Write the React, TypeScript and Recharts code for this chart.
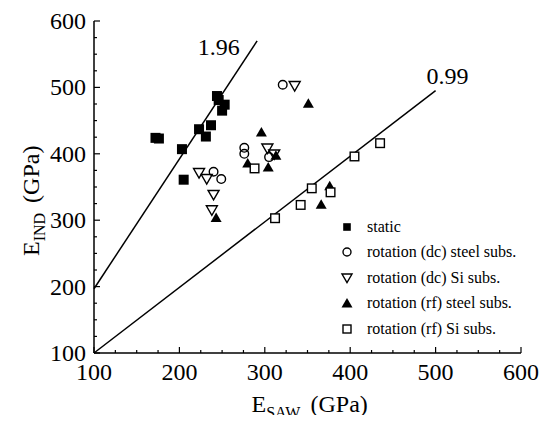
import React from 'react';
import { ScatterChart, Scatter, XAxis, YAxis, ReferenceDot, Legend } from 'recharts';

const FONT = "'Liberation Serif', 'Times New Roman', Times, serif";

// Data (E_SAW, E_IND) in GPa
const staticPts: [number, number][] = [
  [172, 424], [176, 423], [203, 407], [205, 361], [223, 437], [231, 426],
  [237, 443], [244, 487], [246, 481], [253, 474], [250, 465],
];
const dcSteelPts: [number, number][] = [
  [240, 373], [249, 362], [276, 409], [276, 400], [305, 395], [321, 504],
];
const dcSiPts: [number, number][] = [
  [223, 371], [232, 362], [240, 338], [238, 315], [303, 408], [311, 399], [335, 502],
];
const rfSteelPts: [number, number][] = [
  [296, 433], [280, 386], [304, 380], [313, 398], [351, 476], [243, 304], [366, 324], [376, 352],
];
const rfSiPts: [number, number][] = [
  [288, 378], [312, 303], [342, 323], [355, 348], [377, 342], [405, 396], [435, 416],
];

const fitSteep: [number, number][] = [[100, 196], [291, 570]];
const fitShallow: [number, number][] = [[100, 99], [500, 495]];
const fitLabels = [
  { x: 246, y: 561, text: '1.96' },
  { x: 514, y: 518, text: '0.99' },
];

const axisTicks = [
  100, 125, 150, 175, 200, 225, 250, 275, 300, 325, 350, 375, 400,
  425, 450, 475, 500, 525, 550, 575, 600,
];
const DOMAIN: [number, number] = [100, 600];

const legendItems = [
  { key: 'static', label: 'static' },
  { key: 'dcSteel', label: 'rotation (dc) steel subs.' },
  { key: 'dcSi', label: 'rotation (dc) Si subs.' },
  { key: 'rfSteel', label: 'rotation (rf) steel subs.' },
  { key: 'rfSi', label: 'rotation (rf) Si subs.' },
];

const toObj = (arr: [number, number][]) => arr.map(([x, y]) => ({ x, y }));

const isMajor = (v: number) => v % 100 === 0;

const BottomTick = (props: any) => {
  const { x, y, payload } = props;
  const major = isMajor(payload.value);
  return (
    <g>
      <line x1={x} y1={y} x2={x} y2={y - (major ? 6 : 3)} stroke="#000" strokeWidth={1.2} />
      {major && (
        <text x={x} y={y + 27} textAnchor="middle" fontSize={24} fontFamily={FONT} fill="#000">
          {payload.value}
        </text>
      )}
    </g>
  );
};
const TopTick = (props: any) => {
  const { x, y, payload } = props;
  const major = isMajor(payload.value);
  return <line x1={x} y1={y} x2={x} y2={y + (major ? 6 : 3)} stroke="#000" strokeWidth={1.2} />;
};
const LeftTick = (props: any) => {
  const { x, y, payload } = props;
  const major = isMajor(payload.value);
  return (
    <g>
      <line x1={x} y1={y} x2={x + (major ? 6 : 3)} y2={y} stroke="#000" strokeWidth={1.2} />
      {major && (
        <text x={x - 8} y={y + 8} textAnchor="end" fontSize={24} fontFamily={FONT} fill="#000">
          {payload.value}
        </text>
      )}
    </g>
  );
};
const RightTick = (props: any) => {
  const { x, y, payload } = props;
  const major = isMajor(payload.value);
  return <line x1={x} y1={y} x2={x - (major ? 6 : 3)} y2={y} stroke="#000" strokeWidth={1.2} />;
};

const XTitle = (props: any) => {
  const vb = props.viewBox || {};
  const x0 = vb.x + vb.width / 2 - 56;
  const y = vb.y + 59;
  return (
    <text x={x0} y={y} textAnchor="start" fontFamily={FONT} fontSize={24} fill="#000">
      <tspan>E</tspan>
      <tspan fontSize={16} dy={6}>SAW</tspan>
      <tspan dy={-6} dx={10}>(GPa)</tspan>
    </text>
  );
};
const YTitle = (props: any) => {
  const vb = props.viewBox || {};
  const x0 = 31;
  const y0 = vb.y + vb.height / 2 + 69;
  return (
    <text
      x={x0}
      y={y0}
      textAnchor="start"
      fontFamily={FONT}
      fontSize={24}
      fill="#000"
      transform={`rotate(-90, ${x0}, ${y0})`}
    >
      <tspan>E</tspan>
      <tspan fontSize={16} dy={6}>IND</tspan>
      <tspan dy={-6} dx={10}>(GPa)</tspan>
    </text>
  );
};

const FilledSquare = (p: any) => (
  <rect x={p.cx - 5} y={p.cy - 5} width={10} height={10} fill="#000" />
);
const OpenCircle = (p: any) => (
  <circle cx={p.cx} cy={p.cy} r={4.3} fill="none" stroke="#000" strokeWidth={1.4} />
);
const OpenDown = (p: any) => (
  <polygon
    points={`${p.cx - 5.5},${p.cy - 4.5} ${p.cx + 5.5},${p.cy - 4.5} ${p.cx},${p.cy + 5}`}
    fill="none"
    stroke="#000"
    strokeWidth={1.4}
  />
);
const FilledUp = (p: any) => (
  <polygon
    points={`${p.cx - 5.5},${p.cy + 4.5} ${p.cx + 5.5},${p.cy + 4.5} ${p.cx},${p.cy - 5}`}
    fill="#000"
  />
);
const OpenSquare = (p: any) => (
  <rect x={p.cx - 4.3} y={p.cy - 4.3} width={8.6} height={8.6} fill="#fff" stroke="#000" strokeWidth={1.4} />
);
const NoShape = () => <g />;

const LegendMarker = ({ k }: { k: string }) => {
  const c = 10;
  switch (k) {
    case 'static':
      return <rect x={c - 3.8} y={c - 3.8} width={7.6} height={7.6} fill="#000" />;
    case 'dcSteel':
      return <circle cx={c} cy={c} r={4} fill="none" stroke="#000" strokeWidth={1.4} />;
    case 'dcSi':
      return (
        <polygon
          points={`${c - 5},${c - 4} ${c + 5},${c - 4} ${c},${c + 4.5}`}
          fill="none"
          stroke="#000"
          strokeWidth={1.4}
        />
      );
    case 'rfSteel':
      return <polygon points={`${c - 5.5},${c + 4.5} ${c + 5.5},${c + 4.5} ${c},${c - 5}`} fill="#000" />;
    default:
      return <rect x={c - 4} y={c - 4} width={8} height={8} fill="none" stroke="#000" strokeWidth={1.4} />;
  }
};

const LegendContent = () => (
  <div style={{ fontFamily: FONT, fontSize: 16, color: '#000' }}>
    {legendItems.map((it) => (
      <div key={it.key} style={{ display: 'flex', alignItems: 'center', height: 25.5 }}>
        <svg width={20} height={20} style={{ display: 'block' }}>
          <LegendMarker k={it.key} />
        </svg>
        <span style={{ marginLeft: 10, whiteSpace: 'nowrap', lineHeight: '20px' }}>{it.label}</span>
      </div>
    ))}
  </div>
);

export default function App() {
  return (
    <div style={{ width: 533, height: 415, marginBottom: -8, background: '#fff' }}>
      <ScatterChart width={533} height={415} margin={{ top: 13, right: 20, left: 0, bottom: 0 }}>
        <XAxis
          xAxisId="b"
          type="number"
          dataKey="x"
          domain={DOMAIN}
          ticks={axisTicks}
          interval={0}
          height={70}
          tickSize={0}
          tickMargin={0}
          tickLine={false}
          tick={<BottomTick />}
          axisLine={{ stroke: '#000', strokeWidth: 1.5 }}
          label={XTitle}
        />
        <XAxis
          xAxisId="t"
          orientation="top"
          type="number"
          dataKey="x"
          domain={DOMAIN}
          ticks={axisTicks}
          interval={0}
          height={0}
          tickSize={0}
          tickMargin={0}
          tickLine={false}
          tick={<TopTick />}
          axisLine={{ stroke: '#000', strokeWidth: 1.5 }}
        />
        <YAxis
          yAxisId="l"
          type="number"
          dataKey="y"
          domain={DOMAIN}
          ticks={axisTicks}
          interval={0}
          width={86}
          tickSize={0}
          tickMargin={0}
          tickLine={false}
          tick={<LeftTick />}
          axisLine={{ stroke: '#000', strokeWidth: 1.5 }}
          label={YTitle}
        />
        <YAxis
          yAxisId="r"
          orientation="right"
          type="number"
          dataKey="y"
          domain={DOMAIN}
          ticks={axisTicks}
          interval={0}
          width={0}
          tickSize={0}
          tickMargin={0}
          tickLine={false}
          tick={<RightTick />}
          axisLine={{ stroke: '#000', strokeWidth: 1.5 }}
        />
        <Scatter
          xAxisId="t"
          yAxisId="r"
          data={toObj(fitSteep)}
          line={{ stroke: '#000', strokeWidth: 1.5 }}
          shape={NoShape}
          isAnimationActive={false}
          legendType="none"
        />
        <Scatter
          xAxisId="t"
          yAxisId="r"
          data={toObj(fitShallow)}
          line={{ stroke: '#000', strokeWidth: 1.5 }}
          shape={NoShape}
          isAnimationActive={false}
          legendType="none"
        />
        <Scatter xAxisId="b" yAxisId="l" name="static" data={toObj(staticPts)} shape={FilledSquare} isAnimationActive={false} />
        <Scatter xAxisId="b" yAxisId="l" name="dcSteel" data={toObj(dcSteelPts)} shape={OpenCircle} isAnimationActive={false} />
        <Scatter xAxisId="b" yAxisId="l" name="dcSi" data={toObj(dcSiPts)} shape={OpenDown} isAnimationActive={false} />
        <Scatter xAxisId="b" yAxisId="l" name="rfSteel" data={toObj(rfSteelPts)} shape={FilledUp} isAnimationActive={false} />
        <Scatter xAxisId="b" yAxisId="l" name="rfSi" data={toObj(rfSiPts)} shape={OpenSquare} isAnimationActive={false} />
        {fitLabels.map((l) => (
          <ReferenceDot
            key={l.text}
            xAxisId="b"
            yAxisId="l"
            x={l.x}
            y={l.y}
            r={0}
            fill="none"
            stroke="none"
            label={{ value: l.text, position: 'center', fontSize: 24, fontFamily: FONT, fill: '#000' }}
          />
        ))}
        <Legend
          layout="vertical"
          align="center"
          verticalAlign="middle"
          content={LegendContent}
          wrapperStyle={{ left: 329, top: 206, width: 200, height: 130 }}
        />
      </ScatterChart>
    </div>
  );
}
